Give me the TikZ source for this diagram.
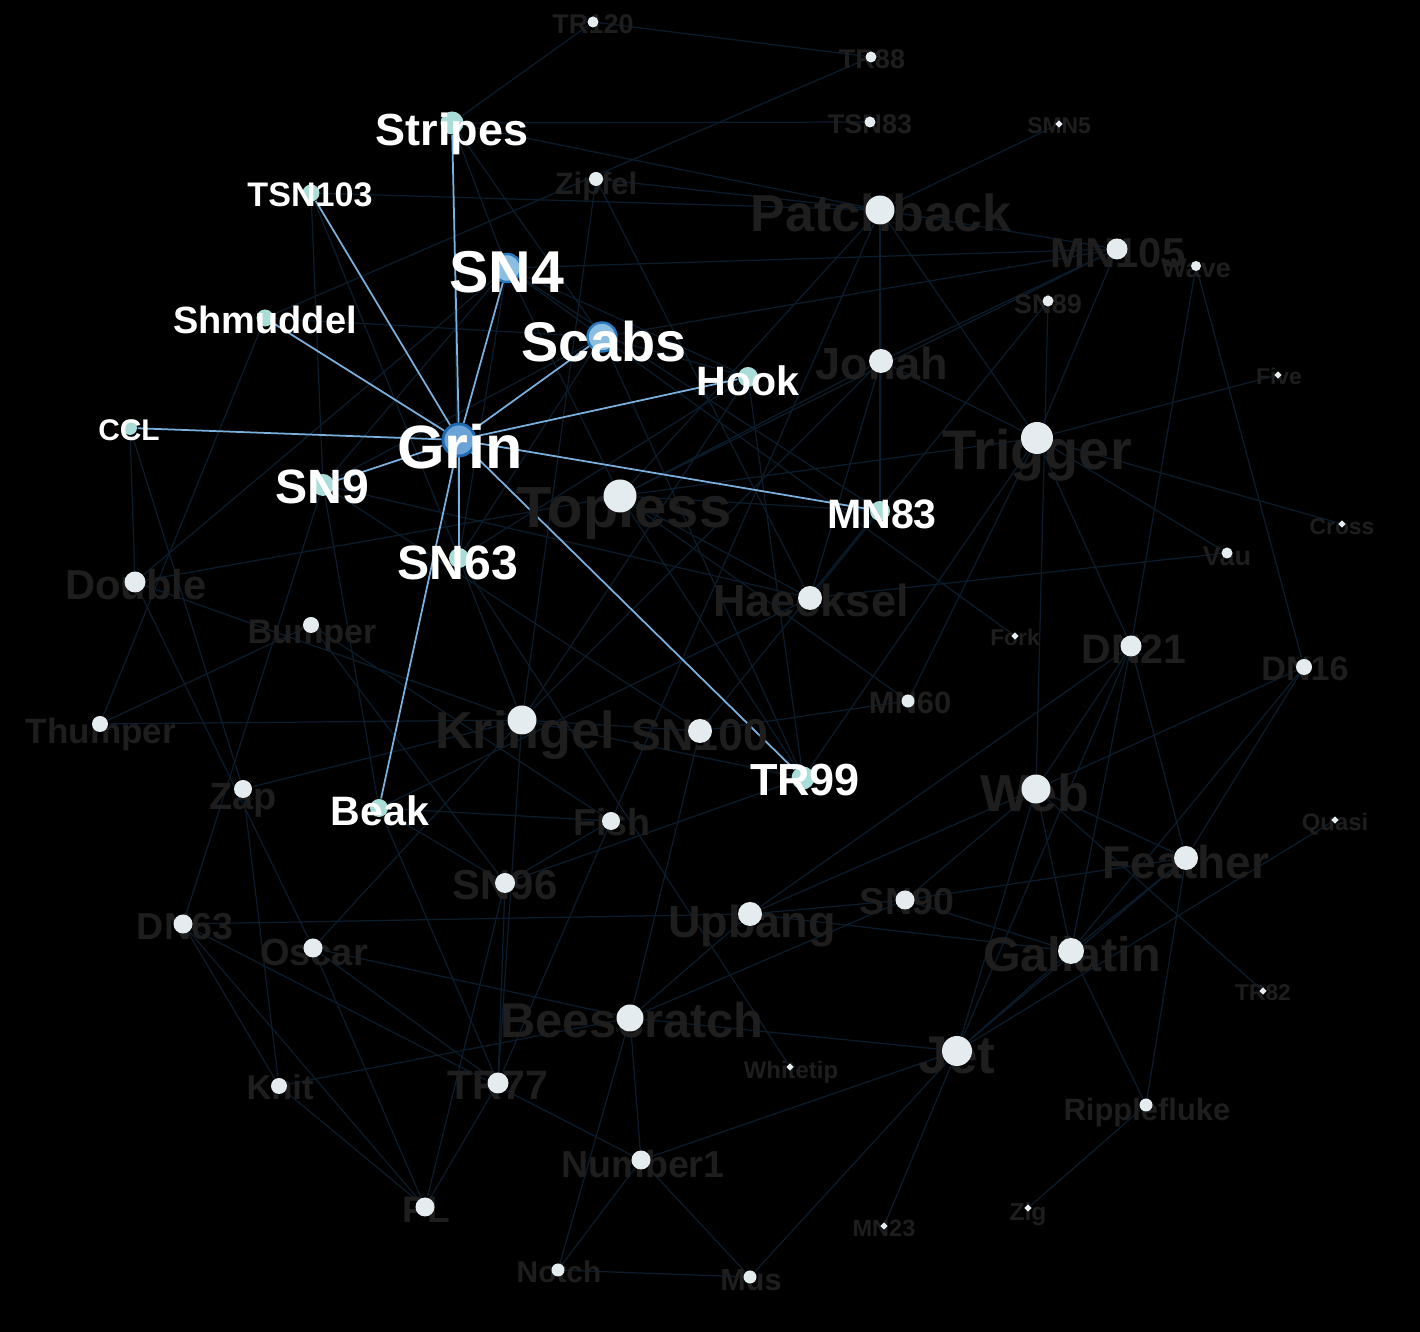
\documentclass[tikz,border=0pt]{standalone}
\usepackage{fontspec}
\setmainfont{Liberation Sans}
\usetikzlibrary{shapes.geometric}
\definecolor{dotwhite}{RGB}{229,236,239}
\definecolor{dimtext}{RGB}{30,30,30}
\definecolor{edgedim}{RGB}{11,29,44}
\definecolor{edgehi}{RGB}{122,176,222}
\definecolor{hiteal}{RGB}{168,221,216}
\definecolor{hiblue}{RGB}{140,190,225}
\definecolor{hiblueline}{RGB}{42,122,188}
\definecolor{grinfill}{RGB}{108,163,214}
\definecolor{grinline}{RGB}{30,106,176}
\pgfdeclarelayer{bg}
\pgfdeclarelayer{edges}
\pgfdeclarelayer{labels}
\pgfdeclarelayer{front}
\pgfsetlayers{bg,edges,labels,main,front}
\tikzset{
  dimdot/.style={circle,fill=dotwhite,inner sep=0pt,minimum size=#1},
  leafdot/.style={diamond,fill=dotwhite,inner sep=0pt,minimum size=0.8mm},
  hidot/.style={circle,fill=hiteal,inner sep=0pt,minimum size=#1},
  bluedot/.style={circle,fill=hiblue,draw=hiblueline,line width=0.7pt,inner sep=0pt,minimum size=#1},
  grindot/.style={circle,fill=grinfill,draw=grinline,line width=0.8pt,inner sep=0pt,minimum size=3.2mm},
  dimlbl/.style={anchor=base,inner sep=0pt,text=dimtext,font=\bfseries\fontsize{#1}{#1}\selectfont},
  hilbl/.style={anchor=base,inner sep=0pt,text=white,font=\bfseries\fontsize{#1}{#1}\selectfont},
  dimedge/.style={draw=edgedim,line width=0.35pt},
  hiedge/.style={draw=edgehi,line width=0.5pt},
}

\begin{document}
\begin{tikzpicture}
  \begin{pgfonlayer}{bg}
    \fill[black] (0,0) rectangle (14.2,-13.32);
  \end{pgfonlayer}
  \useasboundingbox (0,0) rectangle (14.2,-13.32);
  % Grin and its neighbours
  \node[grindot] (grin) at (4.59,-4.40) {};
  \node[hidot=2.3mm] (stripes) at (4.52,-1.23) {};
  \node[hidot=1.7mm] (tsn103) at (3.11,-1.93) {};
  \node[bluedot=2.8mm] (sn4) at (5.07,-2.68) {};
  \node[hidot=1.7mm] (shmuddel) at (2.65,-3.18) {};
  \node[bluedot=2.9mm] (scabs) at (6.02,-3.37) {};
  \node[hidot=2.0mm] (hook) at (7.48,-3.77) {};
  \node[hidot=1.4mm] (ccl) at (1.30,-4.28) {};
  \node[hidot=2.2mm] (sn9) at (3.23,-4.85) {};
  \node[hidot=2.0mm] (mn83) at (8.80,-5.11) {};
  \node[hidot=2.0mm] (sn63) at (4.59,-5.58) {};
  \node[hidot=2.3mm] (tr99) at (8.03,-7.78) {};
  \node[hidot=1.8mm] (beak) at (3.79,-8.08) {};
  % the other dolphins
  \node[dimdot=1.1mm] (tr120) at (5.93,-0.22) {};
  \node[dimdot=1.1mm] (tr88) at (8.71,-0.57) {};
  \node[dimdot=1.1mm] (tsn83) at (8.70,-1.22) {};
  \node[leafdot] (smn5) at (10.59,-1.24) {};
  \node[dimdot=1.4mm] (zipfel) at (5.96,-1.79) {};
  \node[dimdot=2.9mm] (patchback) at (8.80,-2.10) {};
  \node[dimdot=2.1mm] (mn105) at (11.17,-2.49) {};
  \node[dimdot=1.0mm] (wave) at (11.96,-2.66) {};
  \node[dimdot=1.1mm] (sn89) at (10.48,-3.01) {};
  \node[dimdot=2.4mm] (jonah) at (8.81,-3.61) {};
  \node[leafdot] (five) at (12.78,-3.75) {};
  \node[dimdot=3.2mm] (trigger) at (10.37,-4.38) {};
  \node[dimdot=3.3mm] (topless) at (6.20,-4.96) {};
  \node[leafdot] (cross) at (13.42,-5.24) {};
  \node[dimdot=1.1mm] (vau) at (12.27,-5.53) {};
  \node[dimdot=2.1mm] (double) at (1.35,-5.82) {};
  \node[dimdot=2.4mm] (haecksel) at (8.10,-5.98) {};
  \node[dimdot=1.6mm] (bumper) at (3.11,-6.25) {};
  \node[leafdot] (fork) at (10.15,-6.36) {};
  \node[dimdot=2.1mm] (dn21) at (11.31,-6.46) {};
  \node[dimdot=1.6mm] (dn16) at (13.04,-6.67) {};
  \node[dimdot=1.3mm] (mn60) at (9.08,-7.01) {};
  \node[dimdot=1.6mm] (thumper) at (1.00,-7.24) {};
  \node[dimdot=2.9mm] (kringel) at (5.22,-7.20) {};
  \node[dimdot=2.4mm] (sn100) at (7.00,-7.31) {};
  \node[dimdot=1.8mm] (zap) at (2.43,-7.89) {};
  \node[dimdot=2.9mm] (web) at (10.36,-7.89) {};
  \node[dimdot=1.8mm] (fish) at (6.11,-8.21) {};
  \node[leafdot] (quasi) at (13.35,-8.20) {};
  \node[dimdot=2.4mm] (feather) at (11.86,-8.58) {};
  \node[dimdot=2.0mm] (sn96) at (5.05,-8.83) {};
  \node[dimdot=1.9mm] (sn90) at (9.05,-9.00) {};
  \node[dimdot=2.4mm] (upbang) at (7.50,-9.14) {};
  \node[dimdot=1.9mm] (dn63) at (1.83,-9.24) {};
  \node[dimdot=1.9mm] (oscar) at (3.13,-9.48) {};
  \node[dimdot=2.6mm] (gallatin) at (10.71,-9.51) {};
  \node[leafdot] (tr82) at (12.63,-9.91) {};
  \node[dimdot=2.7mm] (beescratch) at (6.30,-10.18) {};
  \node[dimdot=3.0mm] (jet) at (9.57,-10.51) {};
  \node[leafdot] (whitetip) at (7.90,-10.67) {};
  \node[dimdot=1.6mm] (knit) at (2.79,-10.86) {};
  \node[dimdot=2.1mm] (tr77) at (4.98,-10.83) {};
  \node[dimdot=1.3mm] (ripplefluke) at (11.46,-11.05) {};
  \node[dimdot=1.9mm] (number1) at (6.41,-11.60) {};
  \node[dimdot=1.9mm] (pl) at (4.25,-12.07) {};
  \node[leafdot] (zig) at (10.28,-12.08) {};
  \node[leafdot] (mn23) at (8.84,-12.26) {};
  \node[dimdot=1.3mm] (notch) at (5.58,-12.70) {};
  \node[dimdot=1.3mm] (mus) at (7.50,-12.77) {};
  % faint names, under the dots
  \begin{pgfonlayer}{labels}
    \node[dimlbl=7.7] (tr120-lbl) at (5.93,-0.34) {TR120};
    \node[dimlbl=7.7] (tr88-lbl) at (8.72,-0.69) {TR88};
    \node[dimlbl=7.7] (tsn83-lbl) at (8.70,-1.34) {TSN83};
    \node[dimlbl=6.5] (smn5-lbl) at (10.59,-1.34) {SMN5};
    \node[dimlbl=8.8] (zipfel-lbl) at (5.96,-1.95) {Zipfel};
    \node[dimlbl=14.8] (patchback-lbl) at (8.81,-2.32) {Patchback};
    \node[dimlbl=11.9] (mn105-lbl) at (11.18,-2.68) {MN105};
    \node[dimlbl=7.7] (wave-lbl) at (11.96,-2.78) {Wave};
    \node[dimlbl=7.7] (sn89-lbl) at (10.48,-3.14) {SN89};
    \node[dimlbl=12.8] (jonah-lbl) at (8.82,-3.80) {Jonah};
    \node[dimlbl=6.5] (five-lbl) at (12.79,-3.85) {Five};
    \node[dimlbl=15.9] (trigger-lbl) at (10.37,-4.70) {Trigger};
    \node[dimlbl=16.5] (topless-lbl) at (6.24,-5.28) {Topless};
    \node[dimlbl=6.5] (cross-lbl) at (13.42,-5.35) {Cross};
    \node[dimlbl=7.7] (vau-lbl) at (12.27,-5.66) {Vau};
    \node[dimlbl=11.9] (double-lbl) at (1.36,-6.00) {Double};
    \node[dimlbl=12.8] (haecksel-lbl) at (8.11,-6.17) {Haecksel};
    \node[dimlbl=9.7] (bumper-lbl) at (3.12,-6.44) {Bumper};
    \node[dimlbl=6.5] (fork-lbl) at (10.15,-6.46) {Fork};
    \node[dimlbl=11.7] (dn21-lbl) at (11.34,-6.64) {DN21};
    \node[dimlbl=9.7] (dn16-lbl) at (13.05,-6.81) {DN16};
    \node[dimlbl=8.8] (mn60-lbl) at (9.10,-7.14) {MN60};
    \node[dimlbl=10.0] (thumper-lbl) at (1.01,-7.44) {Thumper};
    \node[dimlbl=14.8] (kringel-lbl) at (5.25,-7.49) {Kringel};
    \node[dimlbl=12.7] (sn100-lbl) at (7.00,-7.51) {SN100};
    \node[dimlbl=10.8] (zap-lbl) at (2.43,-8.10) {Zap};
    \node[dimlbl=14.8] (web-lbl) at (10.35,-8.12) {Web};
    \node[dimlbl=10.7] (fish-lbl) at (6.12,-8.36) {Fish};
    \node[dimlbl=6.8] (quasi-lbl) at (13.35,-8.31) {Quasi};
    \node[dimlbl=13.1] (feather-lbl) at (11.86,-8.79) {Feather};
    \node[dimlbl=11.9] (sn96-lbl) at (5.05,-9.00) {SN96};
    \node[dimlbl=10.7] (sn90-lbl) at (9.07,-9.15) {SN90};
    \node[dimlbl=12.8] (upbang-lbl) at (7.52,-9.38) {Upbang};
    \node[dimlbl=10.7] (dn63-lbl) at (1.85,-9.40) {DN63};
    \node[dimlbl=10.8] (oscar-lbl) at (3.14,-9.66) {Oscar};
    \node[dimlbl=13.8] (gallatin-lbl) at (10.72,-9.72) {Gallatin};
    \node[dimlbl=6.5] (tr82-lbl) at (12.63,-10.01) {TR82};
    \node[dimlbl=13.9] (beescratch-lbl) at (6.32,-10.38) {Beescratch};
    \node[dimlbl=15.1] (jet-lbl) at (9.57,-10.74) {Jet};
    \node[dimlbl=6.8] (whitetip-lbl) at (7.91,-10.79) {Whitetip};
    \node[dimlbl=9.8] (knit-lbl) at (2.80,-11.00) {Knit};
    \node[dimlbl=11.7] (tr77-lbl) at (4.98,-11.00) {TR77};
    \node[dimlbl=8.8] (ripplefluke-lbl) at (11.47,-11.21) {Ripplefluke};
    \node[dimlbl=10.7] (number1-lbl) at (6.43,-11.78) {Number1};
    \node[dimlbl=10.5] (pl-lbl) at (4.26,-12.23) {PL};
    \node[dimlbl=7.0] (zig-lbl) at (10.28,-12.21) {Zig};
    \node[dimlbl=6.7] (mn23-lbl) at (8.84,-12.37) {MN23};
    \node[dimlbl=8.5] (notch-lbl) at (5.59,-12.83) {Notch};
    \node[dimlbl=8.7] (mus-lbl) at (7.51,-12.91) {Mus};
  \end{pgfonlayer}
  % bright names, over the dots
  \begin{pgfonlayer}{front}
    \node[hilbl=17.4] (grin-lbl) at (4.60,-4.69) {Grin};
    \node[hilbl=12.8] (stripes-lbl) at (4.52,-1.46) {Stripes};
    \node[hilbl=9.7] (tsn103-lbl) at (3.10,-2.07) {TSN103};
    \node[hilbl=16.8] (sn4-lbl) at (5.07,-2.93) {SN4};
    \node[hilbl=10.8] (shmuddel-lbl) at (2.65,-3.34) {Shmuddel};
    \node[hilbl=15.9] (scabs-lbl) at (6.04,-3.62) {Scabs};
    \node[hilbl=11.7] (hook-lbl) at (7.48,-3.96) {Hook};
    \node[hilbl=8.5] (ccl-lbl) at (1.29,-4.41) {CCL};
    \node[hilbl=13.7] (sn9-lbl) at (3.22,-5.04) {SN9};
    \node[hilbl=11.7] (mn83-lbl) at (8.82,-5.29) {MN83};
    \node[hilbl=13.7] (sn63-lbl) at (4.58,-5.80) {SN63};
    \node[hilbl=12.8] (tr99-lbl) at (8.05,-7.96) {TR99};
    \node[hilbl=11.7] (beak-lbl) at (3.80,-8.26) {Beak};
  \end{pgfonlayer}
  % ties
  \begin{pgfonlayer}{edges}
    \draw[dimedge] (double) edge (ccl) edge (kringel) edge (oscar) edge (sn4) edge (topless);
    \draw[dimedge] (feather) edge (dn16) edge (dn21) edge (gallatin) edge (jet) edge (ripplefluke) edge (sn90) edge (web);
    \draw[dimedge] (fish) edge (beak) edge (bumper) edge (patchback) edge (sn96) edge (tr77);
    \draw[dimedge] (gallatin) edge (dn16) edge (dn21) edge (jet) edge (ripplefluke) edge (sn90) edge (upbang) edge (web);
    \draw[dimedge] (haecksel) edge (beak) edge (jonah) edge (mn83) edge (sn9) edge (topless) edge (vau) edge (zipfel);
    \draw[dimedge] (jet) edge (beescratch) edge (dn21) edge (mn23) edge (mus) edge (number1) edge (quasi) edge (web);
    \draw[dimedge] (kringel) edge (hook) edge (jonah) edge (oscar) edge (sn100) edge (sn63) edge (thumper) edge (tr77) edge (tr99) edge (zap) edge (zipfel);
    \draw[dimedge] (jonah) edge (mn105) edge (mn83) edge (patchback) edge (topless) edge (trigger);
    \draw[dimedge] (knit) edge (beescratch) edge (dn63) edge (pl) edge (zap);
    \draw[dimedge] (notch) edge (beescratch) edge (mus) edge (number1);
    \draw[dimedge] (number1) edge (beescratch) edge (dn63) edge (mus);
    \draw[dimedge] (oscar) edge (beescratch) edge (pl) edge (tr77);
    \draw[dimedge] (patchback) edge (mn105) edge (mn83) edge (smn5) edge (stripes) edge (topless) edge (trigger) edge (tsn103) edge (zipfel);
    \draw[dimedge] (pl) edge (dn63) edge (sn96) edge (tr77);
    \draw[dimedge] (scabs) edge (fork) edge (hook) edge (mn105) edge (shmuddel) edge (sn63) edge (sn9) edge (stripes) edge (tr99) edge (sn4);
    \draw[dimedge] (sn4) edge (hook) edge (mn105) edge (sn9) edge (stripes) edge (topless) edge (mn83) edge (sn63);
    \draw[dimedge] (sn100) edge (beescratch) edge (mn60) edge (sn89) edge (sn9);
    \draw[dimedge] (sn63) edge (hook) edge (stripes) edge (tsn103) edge (whitetip);
    \draw[dimedge] (sn9) edge (beak) edge (dn63) edge (tsn103);
    \draw[dimedge] (sn90) edge (beescratch) edge (upbang) edge (web);
    \draw[dimedge] (sn96) edge (beak) edge (bumper) edge (tr77) edge (tr99);
    \draw[dimedge] (thumper) edge (bumper) edge (shmuddel);
    \draw[dimedge] (topless) edge (mn105) edge (mn60) edge (mn83) edge (tr99) edge (trigger);
    \draw[dimedge] (tr88) edge (shmuddel) edge (tr120);
    \draw[dimedge] (tr120) edge (stripes);
    \draw[dimedge] (trigger) edge (cross) edge (dn21) edge (five) edge (mn105) edge (mn60) edge (tr99) edge (vau);
    \draw[dimedge] (tsn83) edge (stripes);
    \draw[dimedge] (upbang) edge (beescratch) edge (dn21) edge (dn63) edge (web);
    \draw[dimedge] (wave) edge (dn16) edge (dn21);
    \draw[dimedge] (web) edge (dn16) edge (dn21) edge (sn89) edge (tr82);
    \draw[dimedge] (zap) edge (ccl);
    \draw[dimedge] (zig) edge (ripplefluke);
    \draw[dimedge] (beak) edge (tr77);
    \draw[dimedge] (hook) edge (tr99);
    % Grin's ties
    \draw[hiedge] (grin) edge (stripes) edge (tsn103) edge (sn4) edge (shmuddel) edge (scabs) edge (hook)
      edge (ccl) edge (sn9) edge (mn83) edge (sn63) edge (tr99) edge (beak);
  \end{pgfonlayer}
\end{tikzpicture}
\end{document}
